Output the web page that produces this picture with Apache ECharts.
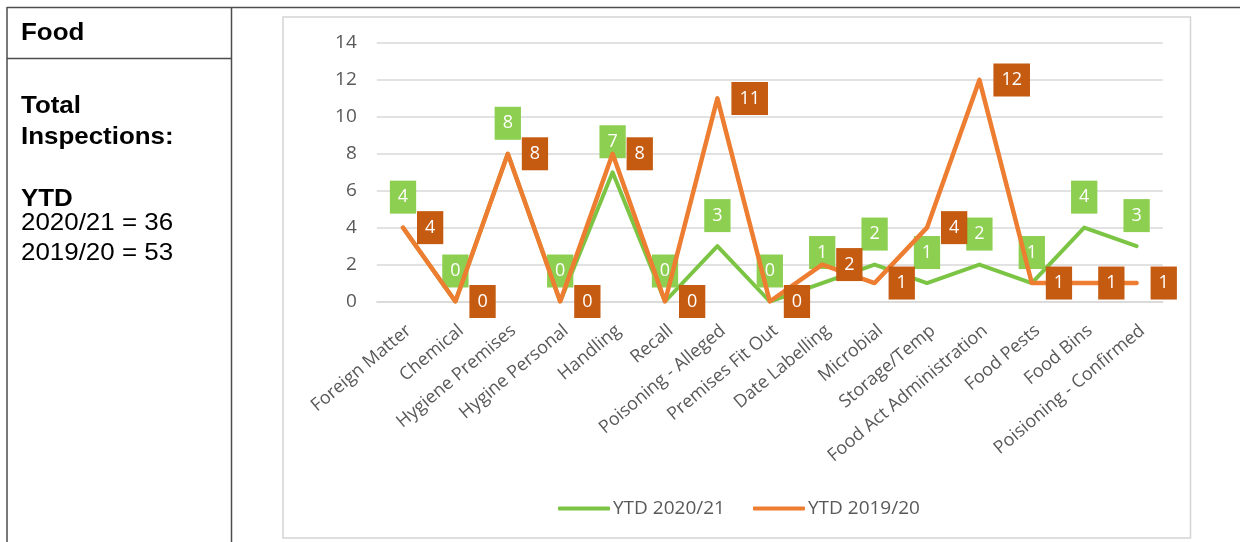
<!DOCTYPE html>
<html>
<head>
<meta charset="utf-8">
<title>Food inspections YTD</title>
<script src="https://cdn.jsdelivr.net/npm/echarts@6/dist/echarts.min.js"></script>
<style>
  html, body { margin: 0; padding: 0; background: #ffffff; }
  #chart { width: 1240px; height: 542px; }
</style>
</head>
<body>
<div id="chart"></div>
<script>
// Inspection categories along the x axis
const categories = [
  'Foreign Matter', 'Chemical', 'Hygiene Premises', 'Hygine Personal', 'Handling',
  'Recall', 'Poisoning - Alleged', 'Premises Fit Out', 'Date Labelling', 'Microbial',
  'Storage/Temp', 'Food Act Administration', 'Food Pests', 'Food Bins', 'Poisioning - Confirmed'
];

// Year-to-date counts per category
const ytd2021 = [4, 0, 8, 0, 7, 0, 3, 0, 1, 2, 1, 2, 1, 4, 3];
const ytd1920 = [4, 0, 8, 0, 8, 0, 11, 0, 2, 1, 4, 12, 1, 1, 1];

const seriesNames = ['YTD 2020/21', 'YTD 2019/20'];

// Value axis ticks
const yMin = 0;
const yMax = 14;
const yStep = 2;

// Side panel text
const panelTitle = 'Food';
const panelHeading = ['Total', 'Inspections:'];
const panelSub = 'YTD';
const panelTotals = ['2020/21 = 36', '2019/20 = 53'];

const FONT = '"Open Sans", "Liberation Sans", sans-serif';
const PANEL_FONT = '"Liberation Sans", Arial, sans-serif';
const GREEN_LINE = '#7CC544';
const GREEN_TAG = '#8DCF50';
const ORANGE_LINE = '#ED7D31';
const ORANGE_TAG = '#C55A11';
const AXIS_TEXT = '#595959';
const GRID_LINE = '#d9d9d9';
const FRAME = '#4d4d4d';

const chart = echarts.init(document.getElementById('chart'), null, { renderer: 'canvas' });

function panelText(text, x, y, bold) {
  return {
    type: 'text',
    x: x, y: y,
    scaleX: 1.08,
    style: {
      text: text,
      fill: '#000000',
      font: (bold ? 'bold ' : '') + '24px ' + PANEL_FONT,
      textVerticalAlign: 'bottom'
    },
    silent: true
  };
}

const graphics = [
  // table frame
  { type: 'line', shape: { x1: 7, y1: 7.5, x2: 1240, y2: 7.5 }, style: { stroke: FRAME, lineWidth: 1.5 }, silent: true },
  { type: 'line', shape: { x1: 7, y1: 7, x2: 7, y2: 542 }, style: { stroke: FRAME, lineWidth: 1.5 }, silent: true },
  { type: 'line', shape: { x1: 231.5, y1: 7, x2: 231.5, y2: 542 }, style: { stroke: FRAME, lineWidth: 1.5 }, silent: true },
  { type: 'line', shape: { x1: 7, y1: 58.5, x2: 231.5, y2: 58.5 }, style: { stroke: FRAME, lineWidth: 1.5 }, silent: true },
  // chart area border
  { type: 'rect', shape: { x: 283, y: 17, width: 907.5, height: 521 }, style: { fill: 'none', stroke: '#d4d4d4', lineWidth: 1.5 }, silent: true },
  // side panel text
  panelText(panelTitle, 21, 45, true),
  panelText(panelHeading[0], 21, 118, true),
  panelText(panelHeading[1], 21, 149, true),
  panelText(panelSub, 21, 211, true),
  panelText(panelTotals[0], 21, 235, false),
  panelText(panelTotals[1], 21, 265, false)
];

function tagLabel(position, bg) {
  return {
    show: true,
    position: position,
    distance: 13,
    color: '#ffffff',
    backgroundColor: bg,
    fontFamily: FONT,
    fontSize: 18,
    lineHeight: 19,
    padding: [7, 8, 7, 8]
  };
}

const option = {
  animation: false,
  backgroundColor: '#ffffff',
  textStyle: { fontFamily: FONT },
  graphic: graphics,
  grid: {
    left: 376.8,
    right: 77.2,
    top: 43,
    bottom: 240.5,
    outerBoundsMode: 'none'
  },
  legend: {
    data: seriesNames,
    left: 553,
    top: 494,
    icon: 'roundRect',
    itemWidth: 52,
    itemHeight: 4,
    itemGap: 28,
    textStyle: { color: AXIS_TEXT, fontSize: 19, fontFamily: FONT, padding: [0, 0, 0, -2] }
  },
  xAxis: {
    type: 'category',
    data: categories,
    boundaryGap: true,
    axisLine: { show: true, lineStyle: { color: GRID_LINE, width: 1.5 } },
    axisTick: { show: false },
    axisLabel: {
      interval: 0,
      rotate: 40,
      margin: 20,
      align: 'right',
      verticalAlign: 'top',
      color: AXIS_TEXT,
      fontSize: 18,
      fontFamily: FONT
    }
  },
  yAxis: {
    type: 'value',
    min: yMin,
    max: yMax,
    interval: yStep,
    axisLine: { show: false },
    axisTick: { show: false },
    splitLine: { show: true, lineStyle: { color: GRID_LINE, width: 1.5 } },
    axisLabel: { color: AXIS_TEXT, fontSize: 19, fontFamily: FONT, margin: 20 }
  },
  series: [
    {
      name: seriesNames[0],
      type: 'line',
      data: ytd2021,
      color: GREEN_LINE,
      symbol: 'circle',
      symbolSize: 2,
      itemStyle: { color: GREEN_LINE },
      lineStyle: { color: GREEN_LINE, width: 4, cap: 'round', join: 'round' },
      label: tagLabel('top', GREEN_TAG),
      emphasis: { disabled: true },
      z: 2
    },
    {
      name: seriesNames[1],
      type: 'line',
      data: ytd1920,
      color: ORANGE_LINE,
      symbol: 'circle',
      symbolSize: 2,
      itemStyle: { color: ORANGE_LINE },
      lineStyle: { color: ORANGE_LINE, width: 4.5, cap: 'round', join: 'round' },
      label: tagLabel('right', ORANGE_TAG),
      emphasis: { disabled: true },
      z: 3
    }
  ]
};

chart.setOption(option);
</script>
</body>
</html>
